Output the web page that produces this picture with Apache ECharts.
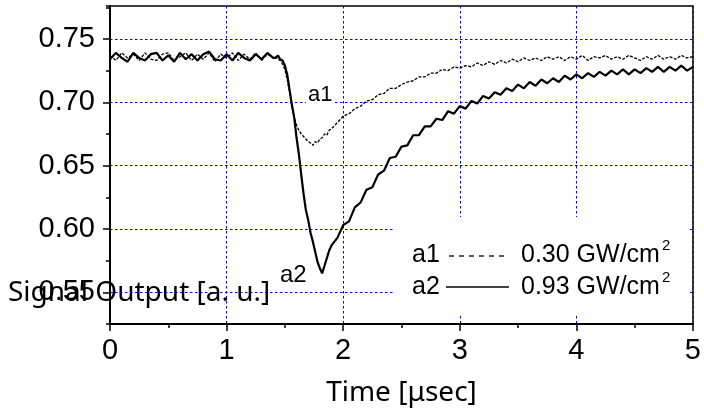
<!DOCTYPE html>
<html>
<head>
<meta charset="utf-8">
<script src="https://cdn.jsdelivr.net/npm/echarts@6/dist/echarts.min.js"></script>
<style>html,body{margin:0;padding:0;background:#fff;}#c{width:704px;height:414px;}</style>
</head>
<body>
<div id="c"></div>
<script>
// time axis in microseconds
const timeUs = [
  0,0.05,0.1,0.15,0.2,0.25,0.3,0.35,0.4,0.45,0.5,0.55,0.6,0.65,0.7,0.75,0.8,0.85,0.9,0.95,1.0,1.05,1.1,1.15,1.2,1.25,1.3,1.35,1.4,
  1.42,1.44,1.46,1.48,1.5,1.52,1.54,1.56,1.58,1.6,1.62,1.64,1.66,1.68,1.7,1.72,1.74,1.76,1.78,1.8,1.82,1.84,1.86,1.88,1.9,
  1.95,2.0,2.05,2.1,2.15,2.2,2.25,2.3,2.35,2.4,2.45,2.5,2.55,2.6,2.65,2.7,2.75,2.8,2.85,2.9,2.95,3.0,
  3.05,3.1,3.15,3.2,3.25,3.3,3.35,3.4,3.45,3.5,3.55,3.6,3.65,3.7,3.75,3.8,3.85,3.9,3.95,4.0,
  4.05,4.1,4.15,4.2,4.25,4.3,4.35,4.4,4.45,4.5,4.55,4.6,4.65,4.7,4.75,4.8,4.85,4.9,4.95,5.0
];
// a1: 0.30 GW/cm2
const a1Values = [
  0.737,0.733,0.739,0.735,0.738,0.733,0.739,0.734,0.733,0.738,0.739,0.733,0.736,0.739,0.733,0.738,0.734,0.739,0.732,0.738,0.735,0.739,0.733,0.738,0.734,0.739,0.733,0.738,0.735,
  0.736,0.734,0.733,0.730,0.726,0.718,0.708,0.697,0.688,0.682,0.678,0.675,0.673,0.671,0.669,0.668,0.666,0.669,0.668,0.671,0.672,0.675,0.674,0.678,0.679,
  0.684,0.689,0.691,0.695,0.697,0.701,0.702,0.706,0.707,0.711,0.711,0.714,0.716,0.717,0.720,0.720,0.723,0.723,0.726,0.725,0.728,0.727,
  0.729,0.728,0.731,0.729,0.732,0.730,0.733,0.731,0.734,0.732,0.735,0.733,0.735,0.733,0.736,0.734,0.736,0.733,0.736,0.734,
  0.737,0.733,0.736,0.735,0.737,0.734,0.736,0.734,0.737,0.735,0.733,0.736,0.734,0.737,0.734,0.736,0.734,0.737,0.735,0.736
];
// a2: 0.93 GW/cm2
const a2Values = [
  0.734,0.739,0.735,0.732,0.739,0.735,0.733,0.738,0.739,0.733,0.737,0.732,0.739,0.734,0.738,0.733,0.738,0.740,0.734,0.733,0.738,0.733,0.739,0.735,0.733,0.738,0.734,0.739,0.735,
  0.735,0.737,0.734,0.733,0.729,0.722,0.710,0.698,0.688,0.672,0.659,0.643,0.628,0.615,0.607,0.597,0.590,0.582,0.574,0.569,0.565,0.571,0.577,0.583,0.587,
  0.593,0.603,0.606,0.617,0.621,0.631,0.633,0.643,0.646,0.656,0.657,0.665,0.666,0.674,0.674,0.681,0.681,0.687,0.686,0.693,0.691,0.697,
  0.695,0.701,0.699,0.705,0.703,0.708,0.706,0.711,0.709,0.714,0.711,0.716,0.713,0.718,0.715,0.719,0.716,0.721,0.718,0.722,
  0.719,0.723,0.720,0.724,0.721,0.725,0.722,0.726,0.722,0.726,0.723,0.727,0.724,0.728,0.724,0.728,0.725,0.729,0.725,0.728
];
const yTickLabels = [0.55, 0.60, 0.65, 0.70, 0.75];
const xTickLabels = [0, 1, 2, 3, 4, 5];

const chart = echarts.init(document.getElementById('c'), null, {renderer: 'canvas'});
const gridColor = '#0000ff';
const labelFont = 'Liberation Sans, Arial, sans-serif';
const titleFont = 'Noto Sans, Open Sans, sans-serif';

const option = {
  animation: false,
  backgroundColor: '#fff',
  grid: {left: 110, right: 10, top: 6, bottom: 90, show: true, borderColor: '#000', borderWidth: 1.5, backgroundColor: 'transparent'},
  xAxis: {
    type: 'value', min: 0, max: 5, interval: 1,
    axisLine: {show: true, onZero: false, lineStyle: {color: '#000', width: 2}},
    axisTick: {show: true, length: 7, lineStyle: {color: '#000', width: 1.5}},
    minorTick: {show: true, splitNumber: 2, length: 4, lineStyle: {color: '#000', width: 1.5}},
    axisLabel: {fontSize: 29, color: '#000', fontFamily: labelFont, margin: 12,
      formatter: v => xTickLabels.includes(v) ? String(v) : ''},
    splitLine: {show: true, lineStyle: {color: gridColor, type: [2.5, 2.5], width: 1}},
    name: 'Time [μsec]', nameLocation: 'middle', nameGap: 55,
    nameTextStyle: {fontSize: 28, color: '#000', fontFamily: titleFont}
  },
  yAxis: [
    {
      type: 'value', min: 0.525, max: 0.776, position: 'left',
      axisLine: {show: true, onZero: false, lineStyle: {color: '#000', width: 2}},
      axisTick: {show: true, length: 7, customValues: yTickLabels, lineStyle: {color: '#000', width: 1.5}},
      axisLabel: {fontSize: 29, color: '#000', fontFamily: labelFont, margin: 15, customValues: yTickLabels,
        formatter: v => v.toFixed(2)},
      splitLine: {show: true, lineStyle: {color: gridColor, type: [2.5, 2.5], width: 1}}
    },
    {
      type: 'value', min: 0.525, max: 0.776, interval: 0.025, position: 'left', offset: 0,
      axisLine: {show: false},
      axisTick: {show: true, length: 4, lineStyle: {color: '#000', width: 1.5}},
      axisLabel: {show: false},
      splitLine: {show: false}
    }
  ],
  series: [
    {
      name: 'a1', type: 'line', yAxisIndex: 0, symbol: 'none', z: 3,
      data: timeUs.map((t, i) => [t, a1Values[i]]),
      lineStyle: {color: '#000', width: 1.3, type: [3, 1.5]}
    },
    {
      name: 'a2', type: 'line', yAxisIndex: 0, symbol: 'none', z: 4,
      data: timeUs.map((t, i) => [t, a2Values[i]]),
      lineStyle: {color: '#000', width: 2.2}
    }
  ],
  graphic: [
    {type: 'text', x: 8, y: 293, z: 50,
      style: {text: 'Signal Output [a. u.]', fontSize: 28, fontFamily: titleFont, fill: '#000', verticalAlign: 'middle'}},
    {type: 'rect', shape: {x: 394, y: 217, width: 296, height: 99}, style: {fill: '#fff'}, z: 40},
    // legend row a1
    {type: 'text', x: 412, y: 255, z: 50,
      style: {text: 'a1', fontSize: 25, fontFamily: labelFont, fill: '#000', verticalAlign: 'middle'}},
    {type: 'line', shape: {x1: 449, y1: 256, x2: 506, y2: 256}, z: 50,
      style: {stroke: '#000', lineWidth: 1.3, lineDash: [5, 5]}},
    {type: 'text', x: 521, y: 255, z: 50,
      style: {text: '0.30 GW/cm', fontSize: 25, fontFamily: labelFont, fill: '#000', verticalAlign: 'middle'}},
    {type: 'text', x: 662, y: 246, z: 50,
      style: {text: '2', fontSize: 15, fontFamily: labelFont, fill: '#000', verticalAlign: 'middle'}},
    // legend row a2
    {type: 'text', x: 412, y: 287, z: 50,
      style: {text: 'a2', fontSize: 25, fontFamily: labelFont, fill: '#000', verticalAlign: 'middle'}},
    {type: 'line', shape: {x1: 446, y1: 287, x2: 509, y2: 287}, z: 50,
      style: {stroke: '#000', lineWidth: 1.5}},
    {type: 'text', x: 521, y: 287, z: 50,
      style: {text: '0.93 GW/cm', fontSize: 25, fontFamily: labelFont, fill: '#000', verticalAlign: 'middle'}},
    {type: 'text', x: 662, y: 278, z: 50,
      style: {text: '2', fontSize: 15, fontFamily: labelFont, fill: '#000', verticalAlign: 'middle'}},
    // curve annotations
    {type: 'text', x: 306, y: 95, z: 50,
      style: {text: 'a1', fontSize: 22, fontFamily: labelFont, fill: '#000', verticalAlign: 'middle',
        backgroundColor: '#fff', padding: [2, 2]}},
    {type: 'text', x: 278, y: 275, z: 50,
      style: {text: 'a2', fontSize: 24, fontFamily: labelFont, fill: '#000', verticalAlign: 'middle',
        backgroundColor: '#fff', padding: [2, 2]}}
  ]
};
chart.setOption(option);
</script>
</body>
</html>
